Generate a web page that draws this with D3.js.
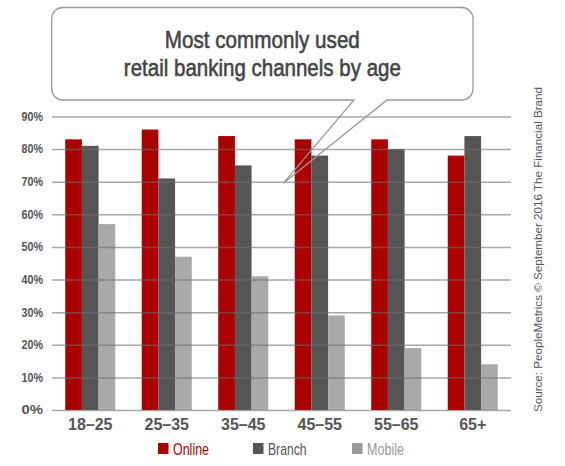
<!DOCTYPE html>
<html>
<head>
<meta charset="utf-8">
<script src="https://cdn.jsdelivr.net/npm/d3@7"></script>
<style>
  body { margin: 0; background: #fff; }
  svg { display: block; }
</style>
</head>
<body>
<script>
(function (d3) {
  "use strict";

  /***** Data *****/
  var ageGroups = ["18–25", "25–35", "35–45", "45–55", "55–65", "65+"];
  var seriesNames = ["Online", "Branch", "Mobile"];
  var online = [83, 86, 84, 83, 83, 78];
  var branch = [81, 71, 75, 78, 80, 84];
  var mobile = [57, 47, 41, 29, 19, 14];
  var yTicks = [0, 10, 20, 30, 40, 50, 60, 70, 80, 90];
  var titleLines = ["Most commonly used", "retail banking channels by age"];
  var sourceText = "Source: PeopleMetrics © September 2016 The Financial Brand";

  var seriesValues = { Online: online, Branch: branch, Mobile: mobile };
  var barColors = { Online: "#aa0000", Branch: "#555555", Mobile: "#a9a9a9" };
  var legendColors = { Online: "#aa0000", Branch: "#555555", Mobile: "#999999" };

  /***** Configuration *****/
  var width = 565, height = 466;
  var plot = { left: 52, right: 511, top: 116.5, bottom: 410 };
  var sans = "'Liberation Sans', Arial, sans-serif";
  var titleWidths = [195, 277];
  var legendWidths = [36, 38.5, 37];

  var svg = d3.select("body").append("svg")
      .attr("width", width)
      .attr("height", height);

  /***** Scales *****/
  var x0 = d3.scaleBand()
      .domain(ageGroups)
      .range([plot.left, plot.right])
      .paddingInner(0.346)
      .paddingOuter(0.173);

  var x1 = d3.scaleBand()
      .domain(seriesNames)
      .range([0, x0.bandwidth()]);

  var y = d3.scaleLinear()
      .domain([0, 90])
      .range([plot.bottom, plot.top]);

  /***** Bars *****/
  var groups = svg.append("g").selectAll("g")
      .data(ageGroups)
      .join("g")
      .attr("transform", function (d) { return "translate(" + x0(d) + ",0)"; });

  groups.selectAll("rect")
      .data(function (d, i) {
        return seriesNames.map(function (s) { return { key: s, value: seriesValues[s][i] }; });
      })
      .join("rect")
      .attr("x", function (d) { return x1(d.key); })
      .attr("y", function (d) { return y(d.value); })
      .attr("width", x1.bandwidth())
      .attr("height", function (d) { return y(0) - y(d.value); })
      .attr("fill", function (d) { return barColors[d.key]; });

  /***** Grid lines (drawn over the bars) *****/
  var yAxis = d3.axisLeft(y)
      .tickValues(yTicks)
      .tickSize(-(plot.right - plot.left))
      .tickPadding(9)
      .tickFormat(function (d) { return d + "%"; });

  var yAxisGroup = svg.append("g")
      .attr("transform", "translate(" + plot.left + ",0)")
      .call(yAxis);

  yAxisGroup.select(".domain").remove();
  yAxisGroup.selectAll(".tick line")
      .attr("stroke", "#6e6e6e")
      .attr("stroke-opacity", 0.6)
      .attr("stroke-width", 1.5);
  yAxisGroup.selectAll(".tick text")
      .attr("fill", "#555")
      .attr("textLength", 21.5)
      .attr("lengthAdjust", "spacingAndGlyphs")
      .style("font-family", sans)
      .style("font-size", "12px")
      .style("font-weight", "bold");

  /***** X axis labels *****/
  var xAxis = d3.axisBottom(x0).tickSize(0).tickPadding(9);
  var xAxisGroup = svg.append("g")
      .attr("transform", "translate(0," + plot.bottom + ")")
      .call(xAxis);
  xAxisGroup.select(".domain").remove();
  xAxisGroup.selectAll(".tick text")
      .attr("fill", "#555")
      .style("font-family", sans)
      .style("font-size", "16px")
      .style("font-weight", "bold");

  /***** Callout *****/
  var box = { x0: 51.7, y0: 7.5, x1: 473, y1: 100, r: 11 };
  var tip = { a: 354, b: 387, tx: x0("35–45") + x0.step() * 0.85, ty: y(69.5) };

  svg.append("rect")
      .attr("x", box.x0).attr("y", box.y0)
      .attr("width", box.x1 - box.x0).attr("height", box.y1 - box.y0)
      .attr("rx", box.r)
      .attr("fill", "#fff");

  var p = d3.path();
  p.moveTo(box.x0 + box.r, box.y0);
  p.lineTo(box.x1 - box.r, box.y0);
  p.arcTo(box.x1, box.y0, box.x1, box.y0 + box.r, box.r);
  p.lineTo(box.x1, box.y1 - box.r);
  p.arcTo(box.x1, box.y1, box.x1 - box.r, box.y1, box.r);
  p.lineTo(tip.b, box.y1);
  p.lineTo(tip.tx, tip.ty);
  p.lineTo(tip.a, box.y1);
  p.lineTo(box.x0 + box.r, box.y1);
  p.arcTo(box.x0, box.y1, box.x0, box.y1 - box.r, box.r);
  p.lineTo(box.x0, box.y0 + box.r);
  p.arcTo(box.x0, box.y0, box.x0 + box.r, box.y0, box.r);
  p.closePath();

  svg.append("path")
      .attr("d", p.toString())
      .attr("fill", "none")
      .attr("stroke", "#9a9a9a")
      .attr("stroke-width", 1.3);

  svg.append("g").selectAll("text")
      .data(titleLines)
      .join("text")
      .attr("x", (box.x0 + box.x1) / 2)
      .attr("y", function (d, i) { return 47.5 + i * 28; })
      .attr("text-anchor", "middle")
      .attr("textLength", function (d, i) { return titleWidths[i]; })
      .attr("lengthAdjust", "spacingAndGlyphs")
      .attr("fill", "#444")
      .attr("stroke", "#444")
      .attr("stroke-width", 0.6)
      .style("font-family", sans)
      .style("font-size", "24.5px")
      .text(function (d) { return d; });

  /***** Legend *****/
  var legendX = [158, 253, 352];
  var legend = svg.append("g").selectAll("g")
      .data(seriesNames)
      .join("g")
      .attr("transform", function (d, i) { return "translate(" + legendX[i] + ",443)"; });

  legend.append("rect")
      .attr("width", 10.5).attr("height", 11)
      .attr("fill", function (d) { return legendColors[d]; });

  legend.append("text")
      .attr("x", 15).attr("y", 11.5)
      .attr("textLength", function (d, i) { return legendWidths[i]; })
      .attr("lengthAdjust", "spacingAndGlyphs")
      .attr("fill", function (d) { return legendColors[d]; })
      .style("font-family", sans)
      .style("font-size", "16.5px")
      .text(function (d) { return d; });

  /***** Source *****/
  svg.append("text")
      .attr("transform", "translate(542,412) rotate(-90)")
      .attr("fill", "#555")
      .attr("textLength", 325)
      .attr("lengthAdjust", "spacingAndGlyphs")
      .style("font-family", sans)
      .style("font-size", "11.5px")
      .text(sourceText);

})(d3);
</script>
</body>
</html>
